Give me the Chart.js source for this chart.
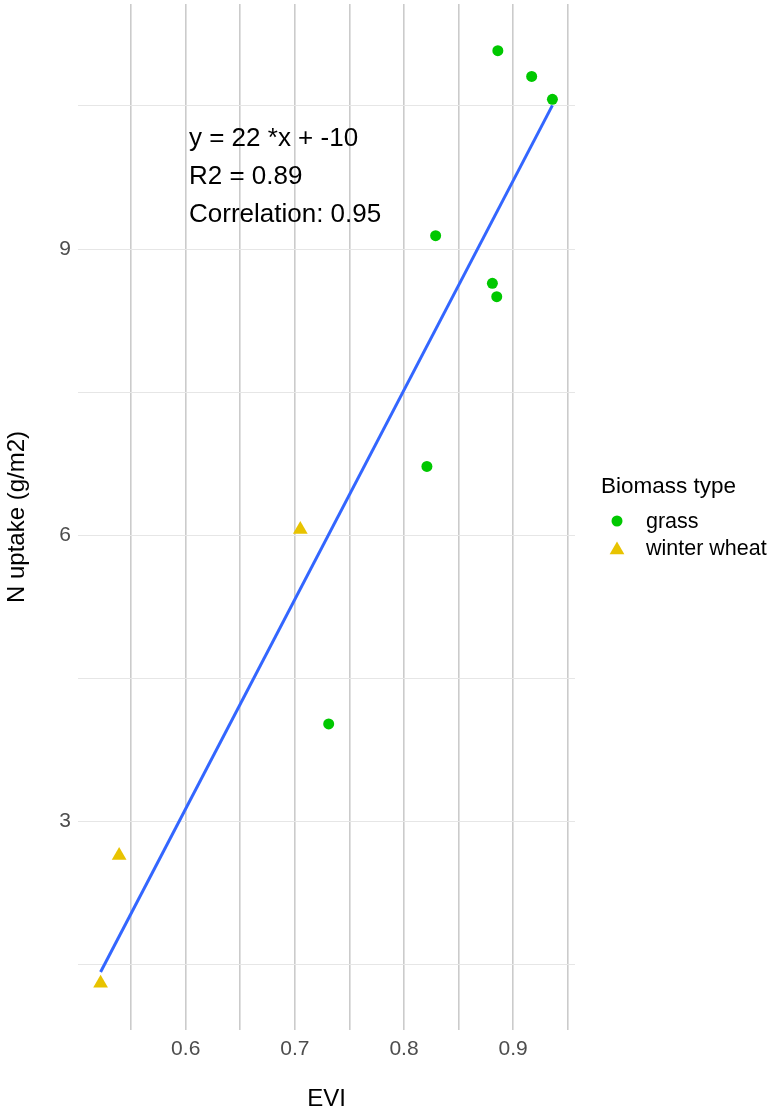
<!DOCTYPE html>
<html>
<head>
<meta charset="utf-8">
<script src="https://cdn.jsdelivr.net/npm/chart.js@4/dist/chart.umd.min.js"></script>
<style>
  html, body { margin: 0; padding: 0; background: #ffffff; }
  #wrap { width: 770px; height: 1113px; }
</style>
</head>
<body>
<div id="wrap"><canvas id="c" width="770" height="1113"></canvas></div>
<script>
// EVI vs. N uptake per biomass type
const grassEVI = [0.886, 0.917, 0.936, 0.829, 0.881, 0.885, 0.821, 0.731];
const grassN   = [11.08, 10.81, 10.57, 9.14, 8.64, 8.50, 6.72, 4.02];
const wheatEVI = [0.705, 0.539, 0.522];
const wheatN   = [6.06, 2.64, 1.30];

const xGridValues = [0.55, 0.60, 0.65, 0.70, 0.75, 0.80, 0.85, 0.90, 0.95];
const xTickLabels = ['0.6', '0.7', '0.8', '0.9'];
const yGridValues = [1.5, 3, 4.5, 6, 7.5, 9, 10.5];
const yTickLabels = ['3', '6', '9'];

const legendTitle = 'Biomass type';
const seriesNames = ['grass', 'winter wheat'];

// Ordinary least squares over all points
const allX = grassEVI.concat(wheatEVI);
const allY = grassN.concat(wheatN);
const n = allX.length;
const mx = allX.reduce((a, b) => a + b, 0) / n;
const my = allY.reduce((a, b) => a + b, 0) / n;
let sxx = 0, syy = 0, sxy = 0;
for (let i = 0; i < n; i++) {
  sxx += (allX[i] - mx) ** 2;
  syy += (allY[i] - my) ** 2;
  sxy += (allX[i] - mx) * (allY[i] - my);
}
const slope = sxy / sxx;
const intercept = my - slope * mx;
const r = sxy / Math.sqrt(sxx * syy);
const xLo = Math.min(...allX), xHi = Math.max(...allX);
const yLo = Math.min(...allY), yHi = Math.max(...allY);
const fitLine = [
  { x: xLo, y: slope * xLo + intercept },
  { x: xHi, y: slope * xHi + intercept }
];
const annotationLines = [
  'y = ' + Math.round(slope) + ' *x + ' + Math.round(intercept),
  'R2 = ' + (r * r).toFixed(2),
  'Correlation: ' + r.toFixed(2)
];

// 5% padding around the data range
const xPad = (xHi - xLo) * 0.05, yPad = (yHi - yLo) * 0.05;

const GREEN = '#00c800';
const GOLD = '#e8c300';
const FONT = "'Liberation Sans', Arial, Helvetica, sans-serif";
Chart.defaults.font.family = FONT;

function drawTriangle(ctx, x, y, rad) {
  const h = rad * Math.sin(Math.PI * 2 / 3);
  ctx.beginPath();
  ctx.moveTo(x, y - rad);
  ctx.lineTo(x + h, y + rad / 2);
  ctx.lineTo(x - h, y + rad / 2);
  ctx.closePath();
  ctx.fill();
}

const extras = {
  id: 'extras',
  afterDraw(chart) {
    const ctx = chart.ctx;
    const xs = chart.scales.x, ys = chart.scales.y;
    const area = chart.chartArea;
    ctx.save();
    // fit annotation
    ctx.fillStyle = '#000000';
    ctx.font = '26px ' + FONT;
    ctx.textAlign = 'left';
    ctx.textBaseline = 'middle';
    const ax = xs.getPixelForValue(0.603);
    const ay = ys.getPixelForValue(10.16);
    annotationLines.forEach((t, i) => ctx.fillText(t, ax, ay + i * 38));

    // axis titles
    ctx.font = '24px ' + FONT;
    ctx.textAlign = 'center';
    ctx.fillText('EVI', (area.left + area.right) / 2, 1099);
    ctx.save();
    ctx.translate(17, (area.top + area.bottom) / 2);
    ctx.rotate(-Math.PI / 2);
    ctx.fillText('N uptake (g/m2)', 0, 0);
    ctx.restore();

    // legend
    ctx.textAlign = 'left';
    ctx.font = '22.5px ' + FONT;
    ctx.fillText(legendTitle, 601, 487);
    ctx.font = '21.5px ' + FONT;
    ctx.fillText(seriesNames[0], 646, 522);
    ctx.fillText(seriesNames[1], 646, 549);
    ctx.fillStyle = GREEN;
    ctx.beginPath();
    ctx.arc(617, 521, 5.5, 0, Math.PI * 2);
    ctx.fill();
    ctx.fillStyle = GOLD;
    drawTriangle(ctx, 617, 550, 8.5);
    ctx.restore();
  }
};

new Chart(document.getElementById('c'), {
  type: 'scatter',
  data: {
    datasets: [
      {
        label: seriesNames[0],
        data: grassEVI.map((x, i) => ({ x, y: grassN[i] })),
        pointStyle: 'circle',
        pointRadius: 5.5,
        pointHoverRadius: 5.5,
        backgroundColor: GREEN,
        borderWidth: 0,
        order: 0
      },
      {
        label: seriesNames[1],
        data: wheatEVI.map((x, i) => ({ x, y: wheatN[i] })),
        pointStyle: 'triangle',
        pointRadius: 8.5,
        pointHoverRadius: 8.5,
        backgroundColor: GOLD,
        borderWidth: 0,
        order: 1
      },
      {
        type: 'line',
        label: 'fit',
        data: fitLine,
        borderColor: '#3366ff',
        borderWidth: 3,
        pointRadius: 0,
        fill: false,
        order: 2
      }
    ]
  },
  options: {
    responsive: false,
    animation: false,
    layout: { autoPadding: false, padding: { left: 0, right: 195, top: 4, bottom: 0 } },
    plugins: { legend: { display: false }, tooltip: { enabled: false } },
    scales: {
      x: {
        type: 'linear',
        min: xLo - xPad,
        max: xHi + xPad,
        afterBuildTicks: s => { s.ticks = xGridValues.map(v => ({ value: v })); },
        afterFit: s => { s.height = 83; s.paddingLeft = 0; s.paddingRight = 0; },
        border: { display: false },
        grid: { color: '#cbcbcb', lineWidth: 1.6, drawTicks: false },
        ticks: {
          autoSkip: false,
          maxRotation: 0,
          padding: 7,
          color: '#4d4d4d',
          font: { size: 21 },
          callback: v => {
            const s = String(Math.round(v * 100) / 100);
            return xTickLabels.includes(s) ? s : '';
          }
        }
      },
      y: {
        type: 'linear',
        min: yLo - yPad,
        max: yHi + yPad,
        afterBuildTicks: s => { s.ticks = yGridValues.map(v => ({ value: v })); },
        afterFit: s => { s.width = 78; s.paddingTop = 0; s.paddingBottom = 0; },
        border: { display: false },
        grid: { color: '#e6e6e6', lineWidth: 1, drawTicks: false },
        ticks: {
          autoSkip: false,
          padding: 7,
          color: '#4d4d4d',
          font: { size: 21 },
          callback: v => {
            const s = String(Math.round(v * 100) / 100);
            return yTickLabels.includes(s) ? s : '';
          }
        }
      }
    }
  },
  plugins: [extras]
});
</script>
</body>
</html>
